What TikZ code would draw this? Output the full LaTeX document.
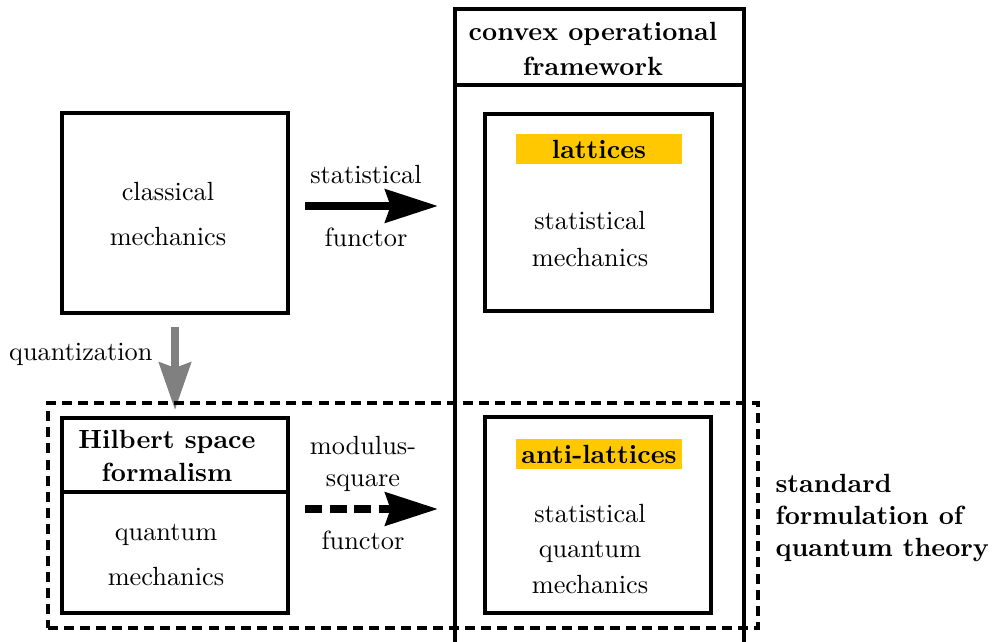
\documentclass[tikz,border=0pt]{standalone}
\usetikzlibrary{arrows.meta, fit, positioning}
\definecolor{latticegold}{RGB}{255,200,0}
\definecolor{quantgray}{RGB}{128,128,128}

\begin{document}
\begin{tikzpicture}[x=0.38pt, y=-0.38pt,
    box/.style={draw, line width=1.3pt, inner sep=0pt, outer sep=0pt},
    tag/.style={fill=latticegold, font=\bfseries, inner sep=0pt,
        minimum width=63pt, minimum height=11.4pt},
    functor/.style={line width=3pt, -{Stealth[length=20pt, width=12.5pt, inset=2pt]}},
    txt/.style={align=center, inner sep=0pt}]

    \useasboundingbox (0,0) rectangle (992,642);

    % Column of the convex operational framework
    \node[box, fit={(455,9) (744,85)}] (cof) {};
    \node[txt, font=\bfseries] (coftext) at (593,49) {convex operational\\[1pt]framework};
    \draw[line width=1.3pt] (cof.south west) -- (455,650);
    \draw[line width=1.3pt] (cof.south east) -- (744,650);

    % Classical side
    \node[box, fit={(62,113) (288,313)}] (classical) {};
    \node[txt] (classicaltext) at (168,214) {classical\\[5pt]mechanics};

    % Lattices
    \node[box, fit={(485,114) (712,311)}] (lattices) {};
    \node[tag] (lattag) at (599,149) {lattices};
    \node[txt] (lattext) at (590,239) {statistical\\[1.7pt]mechanics};

    % Statistical functor
    \coordinate (sfstart) at (305,206);
    \coordinate (sfend) at (438,206);
    \draw[functor] (sfstart) -- (sfend);
    \node[txt] (sflabel) at (366,175) {statistical};
    \node[txt] (sffunctor) at (366,237) {functor};

    % Quantization
    \coordinate (qstart) at (175,327);
    \coordinate (qend) at (175,410);
    \draw[line width=3pt, quantgray, -{Stealth[length=18pt, width=12pt, inset=2pt]}] (qstart) -- (qend);
    \node[txt, anchor=east] (qlabel) at (153,354) {quantization};

    % Hilbert space formalism
    \node[box, fit={(62,418) (288,492)}] (hilbert) {};
    \node[txt, font=\bfseries] (hilberttext) at (167,456) {Hilbert space\\[0.2pt]formalism};
    \node[box, fit={(62,492) (288,613)}] (quantum) {};
    \node[txt] (quantumtext) at (166,555) {quantum\\[5pt]mechanics};

    % Anti-lattices
    \node[box, fit={(485,417) (711,613)}] (antilattices) {};
    \node[tag] (antitag) at (599,454.5) {anti-lattices};
    \node[txt] (antitext) at (590,549) {statistical\\[1.6pt]quantum\\[1.6pt]mechanics};

    % Modulus-square functor
    \coordinate (msstart) at (305,509);
    \coordinate (msend) at (438,509);
    \draw[functor, dash pattern=on 6.4pt off 3pt] (msstart) -- (msend);
    \node[txt] (mslabel) at (363,464) {modulus-\\square};
    \node[txt] (msfunctor) at (363,540) {functor};

    % Standard formulation
    \node[draw, line width=1.3pt, dash pattern=on 3.8pt off 2.3pt, inner sep=0pt,
        fit={(48,403) (758,628)}] (standard) {};
    \node[align=left, anchor=west, inner sep=0pt, font=\bfseries] (standardtext) at (775,518)
        {standard\\formulation of\\quantum theory};

\end{tikzpicture}
\end{document}
